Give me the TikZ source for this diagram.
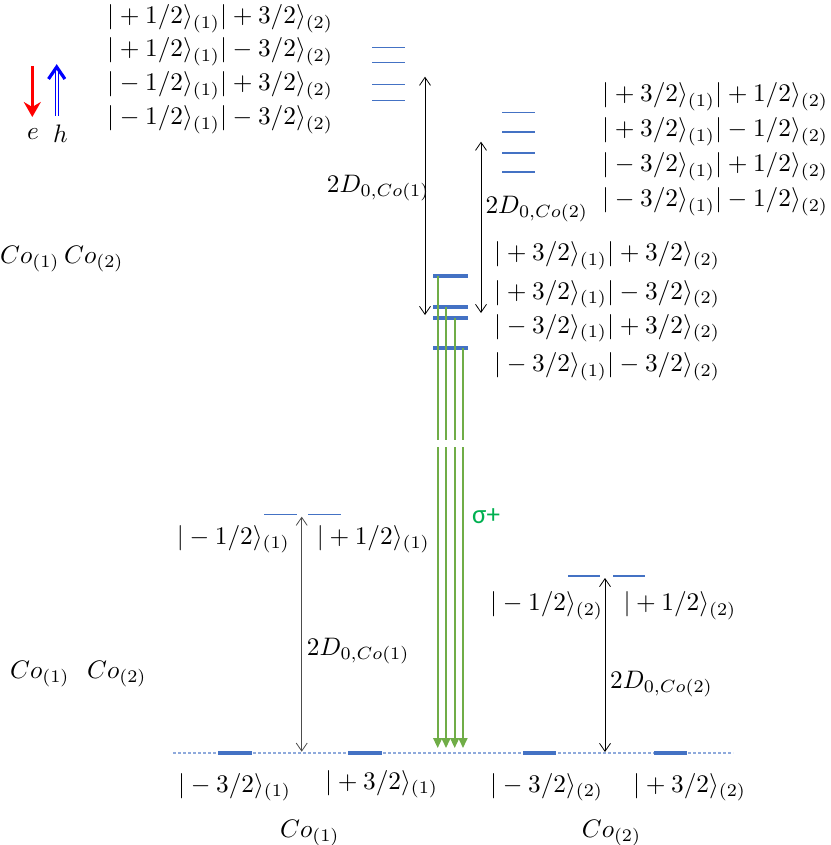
\documentclass[tikz,border=0pt]{standalone}
\usepackage{fontspec}
\newfontfamily\sigfont{Carlito}
\usetikzlibrary{arrows.meta}
\definecolor{lvl}{HTML}{4472C4}
\definecolor{grn}{HTML}{70AD47}
\definecolor{sig}{HTML}{00B050}
\definecolor{dotc}{HTML}{8FAADC}
\newcommand\bigtxt[1]{\scalebox{2.53}{#1}}
\begin{document}
\begin{tikzpicture}[x=1pt,y=-1pt,
  lab/.style={inner sep=0pt, anchor=base west},
  labr/.style={lab, anchor=base east},
  lvlthin/.style={draw=lvl, line width=1.3pt},
  lvlthick/.style={draw=lvl, line width=4pt},
  dbl/.style={draw=black, line width=0.8pt, {Straight Barb[length=8pt,width=11pt]}-{Straight Barb[length=8pt,width=11pt]}},
  grnline/.style={draw=grn, line width=1.6pt},
  grnarr/.style={grnline, -{Triangle[length=10pt,width=9pt]}}]
\path[use as bounding box] (0,0) rectangle (830,845);

% legend
\coordinate (eT) at (32.3,66); \coordinate (eB) at (32.3,117);
\draw[red, line width=3.3pt, -{Stealth[length=15pt,width=17pt,inset=5pt]}] (eT) -- (eB);
\coordinate (hB) at (56.7,116); \coordinate (hT) at (56.7,67);
\coordinate (hBl) at (55.3,116); \coordinate (hTl) at (55.3,71);
\coordinate (hBr) at (58.1,116); \coordinate (hTr) at (58.1,71);
\coordinate (hL) at (48.5,79); \coordinate (hR) at (64.9,79);
\draw[blue, line width=1pt] (hBl) -- (hTl);
\draw[blue, line width=1pt] (hBr) -- (hTr);
\draw[blue, line width=3.2pt, line join=miter, line cap=butt] (hL) -- (hT) -- (hR);
\node[lab] (le) at (27,140) {\bigtxt{$e$}};
\node[lab] (lh) at (53,143) {\bigtxt{$h$}};

% top-left state labels
\node[lab] (s1) at (107,23.5) {\bigtxt{$|+1/2\rangle_{(1)}|+3/2\rangle_{(2)}$}};
\node[lab] (s2) at (107,57) {\bigtxt{$|+1/2\rangle_{(1)}|-3/2\rangle_{(2)}$}};
\node[lab] (s3) at (107,90.5) {\bigtxt{$|-1/2\rangle_{(1)}|+3/2\rangle_{(2)}$}};
\node[lab] (s4) at (107,125) {\bigtxt{$|-1/2\rangle_{(1)}|-3/2\rangle_{(2)}$}};

% right state labels
\node[lab] (r1) at (602,101.5) {\bigtxt{$|+3/2\rangle_{(1)}|+1/2\rangle_{(2)}$}};
\node[lab] (r2) at (602,136.5) {\bigtxt{$|+3/2\rangle_{(1)}|-1/2\rangle_{(2)}$}};
\node[lab] (r3) at (602,171.5) {\bigtxt{$|-3/2\rangle_{(1)}|+1/2\rangle_{(2)}$}};
\node[lab] (r4) at (602,206.5) {\bigtxt{$|-3/2\rangle_{(1)}|-1/2\rangle_{(2)}$}};

% middle state labels
\node[lab] (m1) at (494,260.5) {\bigtxt{$|+3/2\rangle_{(1)}|+3/2\rangle_{(2)}$}};
\node[lab] (m2) at (494,299) {\bigtxt{$|+3/2\rangle_{(1)}|-3/2\rangle_{(2)}$}};
\node[lab] (m3) at (494,333) {\bigtxt{$|-3/2\rangle_{(1)}|+3/2\rangle_{(2)}$}};
\node[lab] (m4) at (494,371.5) {\bigtxt{$|-3/2\rangle_{(1)}|-3/2\rangle_{(2)}$}};

% top thin levels group 1
\foreach \y in {47.7,62.3,84.3,100.7}
  \draw[lvlthin] (372,\y) -- (405,\y);
% top thin levels group 2
\foreach \y in {112.7,132,153,172}
  \draw[lvlthin] (502,\y) -- (535,\y);

% thick middle levels
\foreach \y in {276,307,318,348}
  \draw[lvlthick] (433,\y) -- (467.5,\y);

% green transitions
\foreach \x/\y/\n in {437.7/276/a,446/307/b,454.7/318/c,463/348/d}{
  \coordinate (g\n top) at (\x,\y);
  \coordinate (g\n gapA) at (\x,440);
  \coordinate (g\n gapB) at (\x,447);
  \coordinate (g\n tip) at (\x,748);
  \draw[grnline] (g\n top) -- (g\n gapA);
  \draw[grnarr] (g\n gapB) -- (g\n tip);
}
\node[lab, font=\sigfont\fontsize{27}{30}\selectfont, text=sig] (sig) at (472,523) {σ+};

% double arrows top
\coordinate (A1) at (425,76.7); \coordinate (A2) at (425,315);
\draw[dbl] (A1) -- (A2);
\node[lab] (dA) at (326.7,192) {\bigtxt{$2D_{0,Co(1)}$}};
\coordinate (B1) at (481,141.7); \coordinate (B2) at (481,313);
\draw[dbl] (B1) -- (B2);
\node[lab] (dB) at (485.3,213) {\bigtxt{$2D_{0,Co(2)}$}};

% left labels
\node[lab] (cL1) at (0,263) {\bigtxt{$Co_{(1)}$}};
\node[lab] (cL2) at (64,263) {\bigtxt{$Co_{(2)}$}};
\node[lab] (cM1) at (10,678) {\bigtxt{$Co_{(1)}$}};
\node[lab] (cM2) at (87,678) {\bigtxt{$Co_{(2)}$}};

% baseline
\coordinate (bl0) at (173,753); \coordinate (bl1) at (733,753);
\draw[dotc, line width=1.2pt, dash pattern=on 3pt off 2pt] (bl0) -- (bl1);
\foreach \a/\b in {218/251.7,348/381.7,523/555.7,654/687}
  \draw[lvlthick] (\a,753) -- (\b,753);

% Co1 panel
\draw[lvlthin] (264,514.3) -- (297,514.3);
\draw[lvlthin] (308,514.3) -- (341,514.3);
\coordinate (C1) at (301.7,516.7); \coordinate (C2) at (301.7,751.7);
\draw[dbl, draw=black!70] (C1) -- (C2);
\node[lab] (dC) at (306.7,655) {\bigtxt{$2D_{0,Co(1)}$}};
\node[labr] (u1m) at (290,544) {\bigtxt{$|-1/2\rangle_{(1)}$}};
\node[lab] (u1p) at (316.7,544) {\bigtxt{$|+1/2\rangle_{(1)}$}};
\node[lab] (b1m) at (178,792) {\bigtxt{$|-3/2\rangle_{(1)}$}};
\node[lab] (b1p) at (325,789) {\bigtxt{$|+3/2\rangle_{(1)}$}};
\node[lab] (co1) at (280,837) {\bigtxt{$Co_{(1)}$}};

% Co2 panel
\draw[lvlthin] (568,576) -- (600,576);
\draw[lvlthin] (613,576) -- (645,576);
\coordinate (D1) at (605,578); \coordinate (D2) at (605,752);
\draw[dbl] (D1) -- (D2);
\node[lab] (dD) at (610,688) {\bigtxt{$2D_{0,Co(2)}$}};
\node[lab] (u2m) at (490,610.5) {\bigtxt{$|-1/2\rangle_{(2)}$}};
\node[lab] (u2p) at (623.3,610.5) {\bigtxt{$|+1/2\rangle_{(2)}$}};
\node[lab] (b2m) at (490,792) {\bigtxt{$|-3/2\rangle_{(2)}$}};
\node[lab] (b2p) at (633,792) {\bigtxt{$|+3/2\rangle_{(2)}$}};
\node[lab] (co2) at (581.7,837) {\bigtxt{$Co_{(2)}$}};
\end{tikzpicture}
\end{document}
